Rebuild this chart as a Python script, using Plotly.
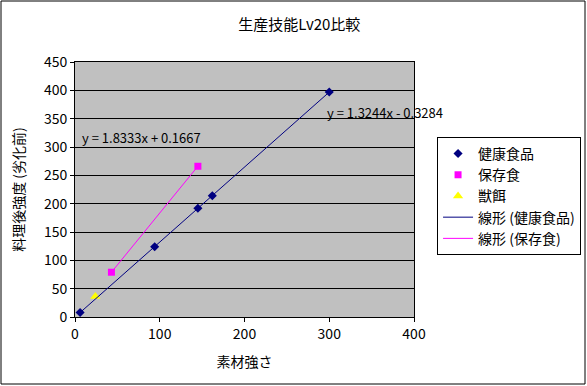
import numpy as np
import plotly.graph_objects as go

title = "生産技能Lv20比較"
x_title = "素材強さ"
y_title = "料理後強度 (劣化前)"

health_x = [6, 94, 145, 162, 300]
health_y = [8, 124, 192, 214, 397]
preserve_x = [43, 145]
preserve_y = [79, 266]
feed_x = [24]
feed_y = [36]

names = ["健康食品", "保存食", "獣餌", "線形 (健康食品)", "線形 (保存食)"]
eq_health = "y = 1.3244x - 0.3284"
eq_preserve = "y = 1.8333x + 0.1667"

FONT = "Noto Sans CJK JP, sans-serif"

def trend(xs, ys):
    m, b = np.polyfit(xs, ys, 1)
    xx = [min(xs), max(xs)]
    return xx, [m * v + b for v in xx]

fig = go.Figure()
fig.add_trace(go.Scatter(x=health_x, y=health_y, mode="markers", name=names[0],
                         marker=dict(symbol="diamond", color="#000080", size=7)))
fig.add_trace(go.Scatter(x=preserve_x, y=preserve_y, mode="markers", name=names[1],
                         marker=dict(symbol="square", color="#FF00FF", size=7)))
fig.add_trace(go.Scatter(x=feed_x, y=feed_y, mode="markers", name=names[2],
                         marker=dict(symbol="triangle-up", color="#FFFF00", size=9)))
tx, ty = trend(health_x, health_y)
fig.add_trace(go.Scatter(x=tx, y=ty, mode="lines", name=names[3],
                         line=dict(color="#000080", width=1)))
tx, ty = trend(preserve_x, preserve_y)
fig.add_trace(go.Scatter(x=tx, y=ty, mode="lines", name=names[4],
                         line=dict(color="#FF00FF", width=1)))

fig.add_annotation(x=295, y=361, text=eq_health, showarrow=False, xanchor="left",
                   font=dict(family=FONT, size=13, color="black"))
fig.add_annotation(x=6, y=317, text=eq_preserve, showarrow=False, xanchor="left",
                   font=dict(family=FONT, size=13, color="black"))

# outer chart border
fig.add_shape(type="rect", xref="paper", yref="paper",
              x0=(1 - 75) / 339, x1=(585 - 75) / 339,
              y0=(317 - 384) / 255, y1=(317 - 1) / 255,
              line=dict(color="black", width=1), layer="below")

fig.update_layout(
    width=587, height=386,
    margin=dict(l=75, r=173, t=62, b=69, autoexpand=False),
    paper_bgcolor="white", plot_bgcolor="#C0C0C0",
    font=dict(family=FONT, size=14, color="black"),
    title=dict(text=title, x=0.51, xanchor="center", y=0.935, yanchor="middle",
               font=dict(family=FONT, size=15, color="black")),
    showlegend=True,
    legend=dict(x=1.068, y=0.706, xanchor="left", yanchor="top",
                bgcolor="white", bordercolor="black", borderwidth=1,
                font=dict(family=FONT, size=14), tracegroupgap=0,
                itemwidth=30),
    xaxis=dict(range=[0, 400], dtick=100, showgrid=False, zeroline=False,
               showline=True, linecolor="black", mirror=True, automargin=False,
               ticks="outside", ticklen=4, tickcolor="black",
               tickfont=dict(size=14),
               title=dict(text=x_title, font=dict(size=14))),
    yaxis=dict(range=[0, 450], dtick=50, showgrid=True, gridcolor="black", gridwidth=1,
               zeroline=False, showline=True, linecolor="black", mirror=True, automargin=False,
               ticks="outside", ticklen=4, tickcolor="black",
               tickfont=dict(size=14),
               title=dict(text=y_title, font=dict(size=14))),
)

fig.write_html("out.html", config={"displayModeBar": False},
               post_script="document.body.style.margin='0';")
